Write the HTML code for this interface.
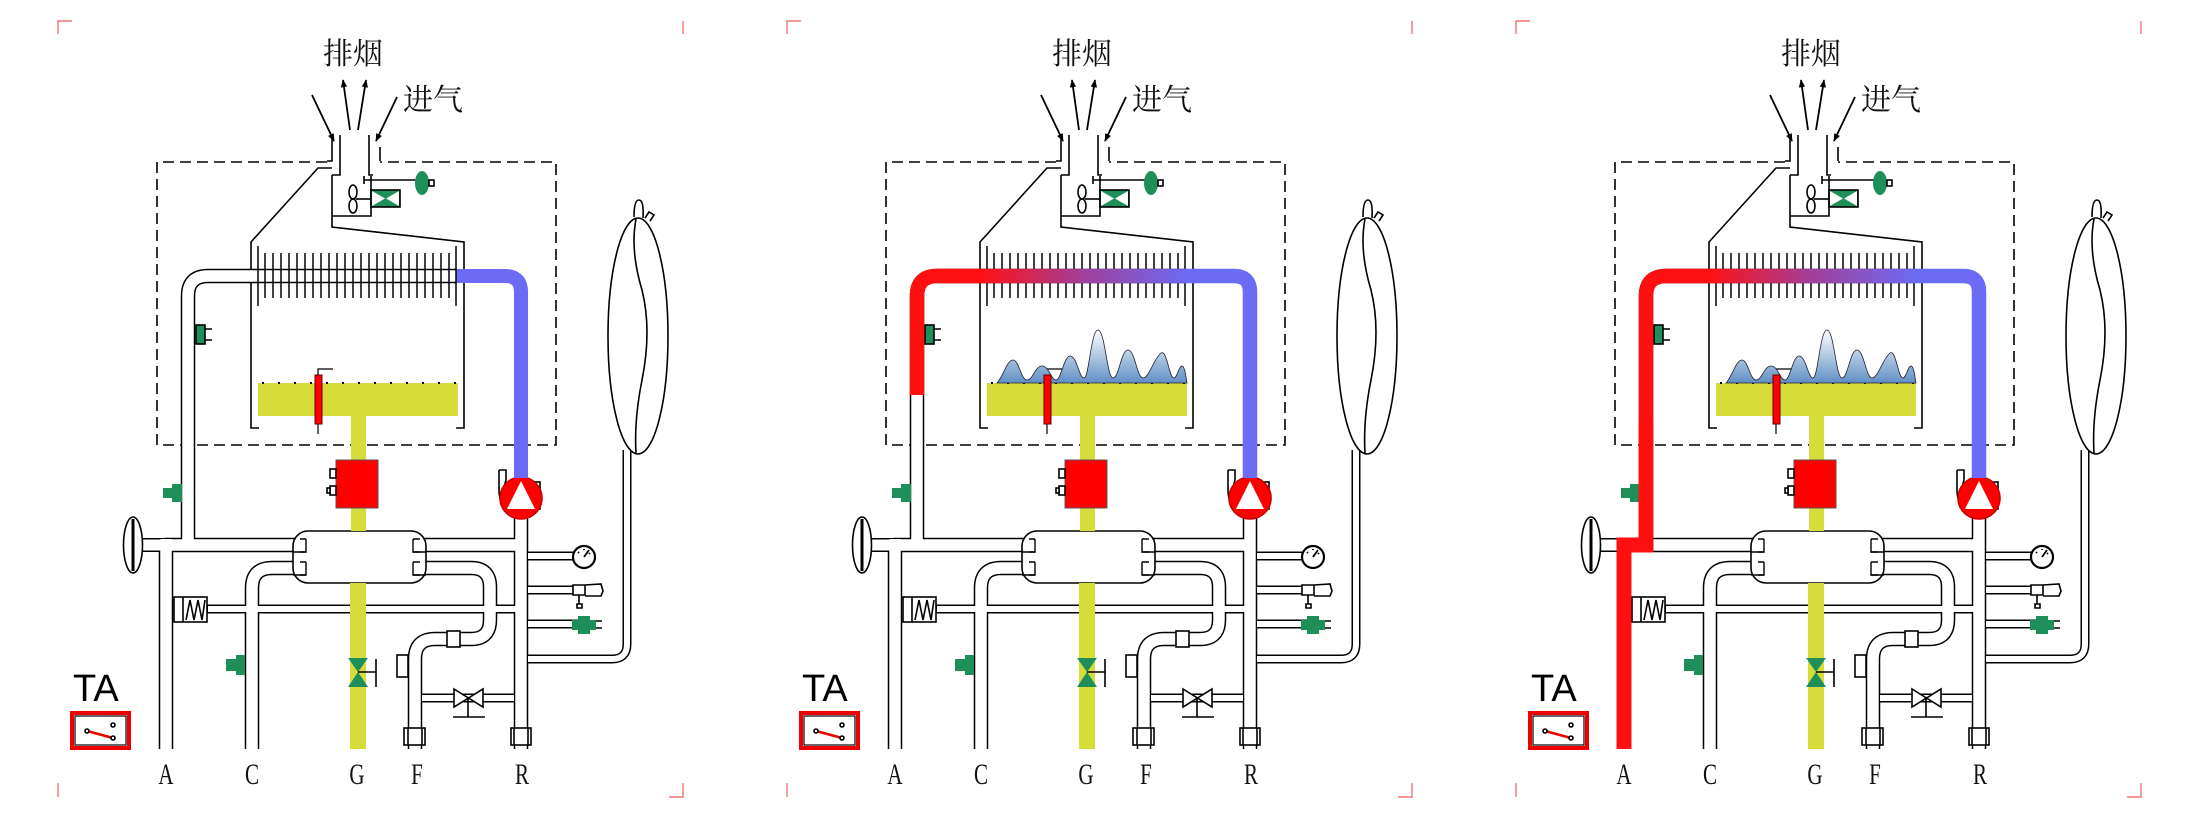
<!DOCTYPE html>
<html><head><meta charset="utf-8"><style>
html,body{margin:0;padding:0;background:#fff;}
svg{display:block;}
.cjk{font-family:"Liberation Serif","Noto Serif CJK SC",serif;font-size:30px;fill:#111;}
.ta{font-family:"Liberation Sans",sans-serif;font-size:38px;fill:#000;}
.lb{font-family:"Liberation Serif",serif;font-size:30px;fill:#111;}
</style></head><body>
<svg width="2197" height="820" viewBox="0 0 2197 820" xmlns="http://www.w3.org/2000/svg">
<defs>
<marker id="ah" viewBox="0 0 10 10" refX="9" refY="5" markerWidth="8" markerHeight="9" orient="auto" markerUnits="userSpaceOnUse"><path d="M0,1 L10,5 L0,9 Z" fill="#000"/></marker>
<linearGradient id="hot" gradientUnits="userSpaceOnUse" x1="250" y1="0" x2="460" y2="0"><stop offset="0" stop-color="#ff1010"/><stop offset="0.5" stop-color="#a0409a"/><stop offset="1" stop-color="#6b6bf5"/></linearGradient>
<linearGradient id="flm" x1="0" y1="0" x2="0" y2="1"><stop offset="0" stop-color="#ffffff"/><stop offset="1" stop-color="#5f8fc4"/></linearGradient>
<g id="base" fill="none" stroke="#000" stroke-width="1.6">
 <path d="M58,34 V21 H72 M683,21 V34 M58,783 V797 M683,783 V797 H669" stroke="#e77" stroke-width="1.4"/>
 <path d="M350,130 L343,80" marker-end="url(#ah)" stroke-width="1.8"/>
 <path d="M358,130 L366,80" marker-end="url(#ah)" stroke-width="1.8"/>
 <path d="M312,95 L334,141" marker-end="url(#ah)" stroke-width="1.8"/>
 <path d="M397,97 L376,141" marker-end="url(#ah)" stroke-width="1.8"/>
 <path d="M327,162 H157 V445 H556 V162 H380" stroke-dasharray="11,6"/>
 <path d="M332,135 V161 H327 M380,147 V161 M340,135 V175 H332 M369,135 V175 H373"/>
 <path d="M332,168 H318 L251,242 V428 H259 M332,175 V227 L464,242 V428 H456"/>
 <path d="M332,216 H371 V176"/>
 <ellipse cx="353" cy="192" rx="4" ry="7"/><ellipse cx="353" cy="206" rx="4" ry="7"/>
 <path d="M356,199 H371"/>
 <path d="M364,180 H418 M364,176 V184"/>
 <rect x="371" y="190" width="29" height="17" fill="#1f8f5a"/>
 <path d="M372,191 L385,198.5 L372,206 Z M399,191 L386,198.5 L399,206 Z" fill="#fff" stroke="none"/>
 <ellipse cx="422" cy="183" rx="7" ry="12" fill="#1f8f5a" stroke="none"/>
 <rect x="429" y="180" width="5" height="6" fill="#fff"/>
 <g stroke="#000" stroke-width="14.5" stroke-linejoin="round">
  <path d="M456,276 H208 Q188,276 188,296 V545"/>
  <path d="M166,749 V545 H300"/>
  <path d="M300,568 H272 Q252,568 252,588 V749"/>
  <path d="M420,545 H521"/>
  <path d="M420,568 H471 Q490,568 490,587 V620 Q490,639 471,639 H435 Q415,639 415,659 V749"/>
  <path d="M521,500 V749"/>
  <path d="M130,545 H166" stroke-width="14"/>
 </g>
 <g stroke="#000" stroke-width="9">
  <path d="M207,609 H521"/>
  <path d="M521,556 H575"/><path d="M521,590 H575"/><path d="M521,624 H578"/>
  <path d="M521,659 H612 Q627,659 627,644 V450"/>
  <path d="M415,698 H521"/>
 </g>
 <g stroke="#fff" stroke-width="11.5" stroke-linejoin="round">
  <path d="M456,276 H208 Q188,276 188,296 V545"/>
  <path d="M166,752 V545 H300"/>
  <path d="M300,568 H272 Q252,568 252,588 V752"/>
  <path d="M420,545 H521"/>
  <path d="M420,568 H471 Q490,568 490,587 V620 Q490,639 471,639 H435 Q415,639 415,659 V752"/>
  <path d="M521,500 V752"/>
  <path d="M128,545 H166" stroke-width="11"/>
 </g>
 <g stroke="#fff" stroke-width="6">
  <path d="M208,609 H521"/>
  <path d="M528,556 H575"/><path d="M528,590 H575"/><path d="M528,624 H578"/>
  <path d="M528,659 H612 Q627,659 627,644 V450"/>
  <path d="M422,698 H514"/>
 </g>
 <path d="M166,539 V552" stroke="#fff" stroke-width="11"/>
 <rect x="293" y="531" width="133" height="52" rx="15" fill="#fff"/>
 <path d="M306,539 V552 H293 M306,562 V575 H293 M413,539 V552 H426 M413,562 V575 H426" stroke-width="1.4"/>
 <path d="M300,539 H306 M300,552 H306 M300,562 H306 M300,575 H306 M413,539 H420 M413,552 H420 M413,562 H420 M413,575 H420" />
 <rect x="258" y="383" width="200" height="33" fill="#d6dd3a" stroke="none"/>
 <path d="M262,383 H456" stroke-dasharray="2,14" stroke-width="2"/>
 <rect x="351" y="416" width="15" height="45" fill="#d6dd3a" stroke="none"/>
 <rect x="351" y="508" width="15" height="23" fill="#d6dd3a" stroke="none"/>
 <rect x="350" y="583" width="16" height="166" fill="#d6dd3a" stroke="none"/>
 <path d="M348,658 H368 L358,672 Z M348,687 H368 L358,672 Z" fill="#1f8f5a" stroke="none"/>
 <path d="M358,672 H376 M376,659 V687"/>
 <rect x="336" y="460" width="42" height="48" fill="#f00" stroke="#555" stroke-width="1"/>
 <rect x="330" y="469" width="6" height="9" fill="#fff"/>
 <rect x="330" y="486" width="6" height="9" fill="#fff"/><rect x="327" y="488" width="3" height="5" fill="#fff"/>
 <rect x="315" y="375" width="7" height="49" fill="#f00" stroke="#600" stroke-width="1"/>
 <path d="M318,424 V434 M318,375 V369 H333" stroke-width="1.2"/>
 <rect x="196" y="325" width="9" height="19" fill="#1f8f5a"/>
 <path d="M205,329 H212 M205,340 H212"/>
 <path d="M182,484 H172 V488 H163 V498 H172 V502 H182 Z" fill="#1f8f5a" stroke="none"/>
 <path d="M245,655 H236 V659 H226 V671 H236 V675 H245 Z" fill="#1f8f5a" stroke="none"/>
 <ellipse cx="133" cy="545" rx="9.5" ry="28" fill="#fff"/>
 <path d="M133,519 V571" stroke-width="3"/>
 <rect x="174" y="597" width="33" height="25" fill="#fff"/>
 <path d="M183,597 V622 M186,620 L190,600 L194,620 L198,600 L202,620 L205,600"/>
 <rect x="397" y="655" width="11" height="22" fill="#fff"/>
 <rect x="447" y="631" width="13" height="16" fill="#fff"/>
 <rect x="404" y="728" width="21" height="17" fill="#fff"/><path d="M408,728 V745 M422,728 V745"/>
 <rect x="511" y="728" width="20" height="17" fill="#fff"/><path d="M514,728 V745 M528,728 V745"/>
 <path d="M454,689 L483,707 V689 L454,707 Z" fill="#fff"/>
 <path d="M468,698 V717 M453,717 H485"/>
 <path d="M499,470 H506 V480 Q502,492 506,506 L512,510 M499,470 V490 Q499,505 510,510" fill="#fff"/>
 <rect x="528" y="482" width="12" height="27" fill="#fff"/>
 <circle cx="521" cy="498" r="21" fill="#f00" stroke="#c00"/>
 <path d="M521,481 L507,509 H535 Z" fill="#fff" stroke="none"/>
 <circle cx="584" cy="557" r="11" fill="#fff" stroke-width="2.2"/>
 <path d="M584,557 L589,550 M578,552 L579,553 M584,549 V550 M590,553 L589,554" stroke-width="1.8"/>
 <path d="M573,585 H585 V595 H573 Z M585,585 L601,584 L603,591 L601,596 L585,596" fill="#fff"/>
 <path d="M579,595 V604 M577,604 H582 V608 H577 Z"/>
 <path d="M572,620 H578 V616 H590 V620 H596 V630 H590 V634 H578 V630 H572 Z" fill="#1f8f5a" stroke="none"/>
 <path d="M596,621 H602 M596,628 H602" stroke-width="1.4"/>
 <ellipse cx="638" cy="336" rx="30" ry="118" fill="#fff"/>
 <path d="M634,217 Q634,200 639,200 Q644,200 643,218 M645,218 L649,212 L654,215 L650,221"/>
 <path d="M636,219 Q630,250 642,290 Q652,330 642,380 Q634,420 636,453"/>
 <rect x="72" y="713" width="57" height="35" fill="none" stroke="#e00" stroke-width="4"/>
 <rect x="75" y="716" width="51" height="29" fill="#fff" stroke="#000" stroke-width="1.2"/>
 <path d="M87,731 L113,738" stroke="#e00" stroke-width="2.5"/>
 <circle cx="87" cy="731" r="2" fill="#fff"/><circle cx="113" cy="738" r="2" fill="#fff"/><circle cx="113" cy="725" r="2" fill="#fff"/>
</g>
<path id="fins" d="M258,246 V306 M265,253 V298 M273,253 V298 M281,253 V298 M289,253 V298 M297,253 V298 M305,253 V298 M313,253 V298 M321,253 V298 M329,253 V298 M337,253 V298 M345,253 V298 M353,253 V298 M361,253 V298 M369,253 V298 M377,253 V298 M385,253 V298 M393,253 V298 M401,253 V298 M409,253 V298 M417,253 V298 M425,253 V298 M433,253 V298 M441,253 V298 M449,253 V298 M456,246 V306" stroke="#000" stroke-width="1.5" fill="none"/>
<path id="flames" d="M268,383 C275,375 278,360 284,360 C290,360 292,380 298,380 C304,380 306,366 313,366 C320,366 322,380 327,380 C332,380 335,356 341,356 C348,356 350,378 355,378 C360,378 362,330 369,330 C376,330 378,378 384,378 C390,378 392,350 399,350 C406,350 408,378 414,378 C420,378 424,360 432,353 C438,349 440,378 445,378 C448,378 450,366 453,366 C456,366 457,378 458,383 Z" fill="url(#flm)" stroke="#223" stroke-width="0.8"/>
</defs>

<g>
 <use href="#base"/>
 <path d="M456,276 H505 Q521,276 521,292 V478" stroke="#6b6bf5" stroke-width="14" fill="none"/>
 <use href="#fins"/>
 <text class="cjk" x="323" y="64">排烟</text>
 <text class="cjk" x="403" y="110">进气</text>
 <text class="ta" x="73" y="701">TA</text>
 <g class="lb" text-anchor="middle">
  <text x="166" y="784" transform="translate(166 0) scale(0.7 1) translate(-166 0)">A</text>
  <text x="252" y="784" transform="translate(252 0) scale(0.7 1) translate(-252 0)">C</text>
  <text x="357" y="784" transform="translate(357 0) scale(0.7 1) translate(-357 0)">G</text>
  <text x="417" y="784" transform="translate(417 0) scale(0.7 1) translate(-417 0)">F</text>
  <text x="522" y="784" transform="translate(522 0) scale(0.7 1) translate(-522 0)">R</text>
 </g>
</g>

<g transform="translate(729 0)">
 <use href="#base"/>
 <use href="#fins"/>
 <path d="M188,395 V296 Q188,276 208,276 H505 Q521,276 521,292 V478" stroke="url(#hot)" stroke-width="14.5" fill="none"/>
 <use href="#flames"/>
 <rect x="315" y="375" width="7" height="49" fill="#f00" stroke="#600" stroke-width="1"/>
 <text class="cjk" x="323" y="64">排烟</text>
 <text class="cjk" x="403" y="110">进气</text>
 <text class="ta" x="73" y="701">TA</text>
 <g class="lb" text-anchor="middle">
  <text x="166" y="784" transform="translate(166 0) scale(0.7 1) translate(-166 0)">A</text>
  <text x="252" y="784" transform="translate(252 0) scale(0.7 1) translate(-252 0)">C</text>
  <text x="357" y="784" transform="translate(357 0) scale(0.7 1) translate(-357 0)">G</text>
  <text x="417" y="784" transform="translate(417 0) scale(0.7 1) translate(-417 0)">F</text>
  <text x="522" y="784" transform="translate(522 0) scale(0.7 1) translate(-522 0)">R</text>
 </g>
</g>

<g transform="translate(1458 0)">
 <use href="#base"/>
 <use href="#fins"/>
 <path d="M188,545 V296 Q188,276 208,276 H505 Q521,276 521,292 V478" stroke="url(#hot)" stroke-width="14.5" fill="none"/>
 <path d="M188,420 V545 H166 V749" stroke="#ff1010" stroke-width="15" fill="none" stroke-linejoin="miter"/>
 <use href="#flames"/>
 <rect x="315" y="375" width="7" height="49" fill="#f00" stroke="#600" stroke-width="1"/>
 <text class="cjk" x="323" y="64">排烟</text>
 <text class="cjk" x="403" y="110">进气</text>
 <text class="ta" x="73" y="701">TA</text>
 <g class="lb" text-anchor="middle">
  <text x="166" y="784" transform="translate(166 0) scale(0.7 1) translate(-166 0)">A</text>
  <text x="252" y="784" transform="translate(252 0) scale(0.7 1) translate(-252 0)">C</text>
  <text x="357" y="784" transform="translate(357 0) scale(0.7 1) translate(-357 0)">G</text>
  <text x="417" y="784" transform="translate(417 0) scale(0.7 1) translate(-417 0)">F</text>
  <text x="522" y="784" transform="translate(522 0) scale(0.7 1) translate(-522 0)">R</text>
 </g>
</g>
</svg>
</body></html>
